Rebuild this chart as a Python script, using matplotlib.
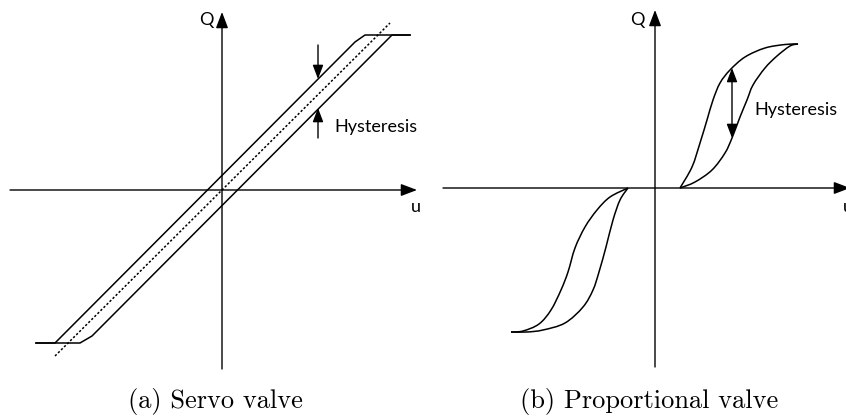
"""
Flow characteristics Q(u) of a servo valve and a proportional valve,
showing hysteresis (and the dead band of the proportional valve).

Output: out.png
"""

import matplotlib

matplotlib.use("Agg")
import matplotlib.pyplot as plt
import numpy as np
from matplotlib.patches import FancyArrowPatch, PathPatch
from matplotlib.path import Path

# ---- servo valve (a): two parallel branches with saturation ----
servo_rise_u = [-186, -142, -130, 170, 188]
servo_rise_q = [-153, -153, -146, 155, 155]
servo_fall_u = [188, 143, 133, -167, -186]
servo_fall_q = [155, 155, 148, -153, -153]
servo_mid_u = [-167, 168]
servo_mid_q = [-166, 167]
servo_hyst_u = 96
servo_hyst_fall_q = [145, 111]   # arrow pointing down onto upper branch
servo_hyst_rise_q = [52, 82]     # arrow pointing up onto lower branch

# ---- proportional valve (b): S-shaped branches with dead band ----
prop_pos_outer_u = [25, 37, 45, 52, 58, 65, 75, 90, 110, 130, 143]
prop_pos_outer_q = [0, 21, 45, 68, 88, 105, 118, 131, 140, 143.5, 144]
prop_pos_inner_u = [25, 40, 57, 70, 77, 85, 92, 98, 110, 122, 135, 143]
prop_pos_inner_q = [0, 6, 18, 35, 50, 71, 88, 103, 120, 132, 142, 144]
prop_neg_outer_u = [-27, -45, -58, -70, -80, -87, -94, -104, -116, -132, -144]
prop_neg_outer_q = [0, -9, -22, -39, -60, -84, -102, -122, -136, -143, -144]
prop_neg_inner_u = [-27, -35, -42, -49, -56, -62, -72, -90, -112, -128, -144]
prop_neg_inner_q = [0, -12, -32, -59, -84, -102, -119, -135, -142, -144, -144]
prop_hyst_u = 77
prop_hyst_q = [120, 50]

LABEL_FONT = ["Lato", "DejaVu Sans"]
LABEL_SIZE = 13
CAPTION_FONT = "cmr10"


def smooth_path(u, q):
    """Catmull-Rom curve through the given points as a cubic Bezier path."""
    pts = np.column_stack([u, q]).astype(float)
    n = len(pts)
    verts = [pts[0]]
    codes = [Path.MOVETO]
    for i in range(n - 1):
        p0 = pts[i - 1] if i > 0 else pts[i]
        p1 = pts[i]
        p2 = pts[i + 1]
        p3 = pts[i + 2] if i + 2 < n else pts[i + 1]
        verts += [p1 + (p2 - p0) / 6, p2 - (p3 - p1) / 6, p2]
        codes += [Path.CURVE4] * 3
    return Path(verts, codes)


def arrow(ax, start, end, style="-|>", lw=1.0, size=0.6):
    ax.add_patch(FancyArrowPatch(
        start, end,
        arrowstyle=f"{style},head_length={size},head_width={size * 0.38}",
        mutation_scale=14, color="black", lw=lw,
        shrinkA=0, shrinkB=0,
    ))


def draw_axes(ax, q_label_xy, u_label_xy, u_end):
    """Coordinate cross with arrow heads and Q / u labels."""
    arrow(ax, (-212, 0), (u_end, 0), lw=1.0, size=0.7)
    arrow(ax, (0, -179), (0, 178), lw=1.0, size=0.7)
    ax.text(*q_label_xy, "Q", family=LABEL_FONT, fontsize=LABEL_SIZE,
            ha="center", va="baseline")
    ax.text(*u_label_xy, "u", family=LABEL_FONT, fontsize=LABEL_SIZE,
            ha="center", va="baseline")


def plot_servo(ax):
    ax.set_xlim(-222, 201)
    ax.set_ylim(-229, 190)
    draw_axes(ax, (-16, 165), (194, -22), 195)

    ax.plot(servo_rise_u, servo_rise_q, color="black", lw=1.1)
    ax.plot(servo_fall_u, servo_fall_q, color="black", lw=1.1)
    ax.plot(servo_mid_u, servo_mid_q, color="black", lw=1.1,
            linestyle=(0, (1.5, 1.3)))

    arrow(ax, (servo_hyst_u, servo_hyst_fall_q[0]),
          (servo_hyst_u, servo_hyst_fall_q[1]))
    arrow(ax, (servo_hyst_u, servo_hyst_rise_q[0]),
          (servo_hyst_u, servo_hyst_rise_q[1]))
    ax.text(112, 58, "Hysteresis", family=LABEL_FONT, fontsize=LABEL_SIZE,
            ha="left", va="baseline")

    ax.text(-7, -218, "(a) Servo valve", family=CAPTION_FONT, fontsize=19,
            ha="center", va="baseline")


def plot_proportional(ax):
    ax.set_xlim(-232, 191)
    ax.set_ylim(-231, 188)
    draw_axes(ax, (-18, 163), (193, -24), 195)

    for u, q in [
        (prop_pos_outer_u, prop_pos_outer_q),
        (prop_pos_inner_u, prop_pos_inner_q),
        (prop_neg_outer_u, prop_neg_outer_q),
        (prop_neg_inner_u, prop_neg_inner_q),
    ]:
        ax.add_patch(PathPatch(smooth_path(u, q), facecolor="none",
                               edgecolor="black", lw=1.1))

    arrow(ax, (prop_hyst_u, prop_hyst_q[0]), (prop_hyst_u, prop_hyst_q[1]),
          style="<|-|>")
    ax.text(99, 73, "Hysteresis", family=LABEL_FONT, fontsize=LABEL_SIZE,
            ha="left", va="baseline")

    ax.text(-6, -220, "(b) Proportional valve", family=CAPTION_FONT,
            fontsize=19, ha="center", va="baseline")


def main():
    plt.rcParams["axes.formatter.use_mathtext"] = True
    fig = plt.figure(figsize=(8.46, 4.19), dpi=100)
    ax_a = fig.add_axes([0, 0, 0.5, 1])
    ax_b = fig.add_axes([0.5, 0, 0.5, 1])
    for ax in (ax_a, ax_b):
        ax.set_axis_off()

    plot_servo(ax_a)
    plot_proportional(ax_b)

    fig.savefig("out.png", dpi=100)
    plt.close(fig)


if __name__ == "__main__":
    main()
